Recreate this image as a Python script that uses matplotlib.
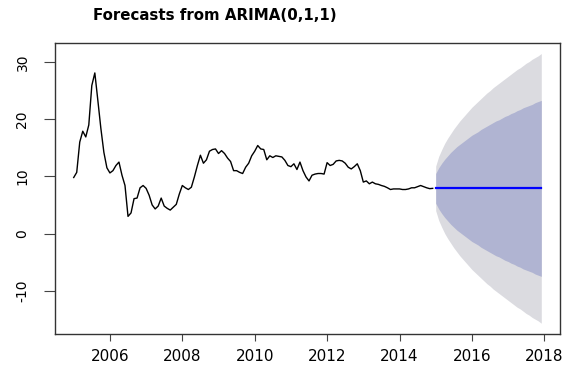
import numpy as np
import matplotlib
matplotlib.use("Agg")
from matplotlib import pyplot as plt

# monthly series, Jan 2005 .. Dec 2014
start_year = 2005
history = [9.8, 10.7, 16.0, 17.9, 16.9, 19.0, 25.9, 28.1, 23.3, 18.4, 14.2, 11.5,
           10.6, 11.0, 11.9, 12.5, 10.2, 8.4, 3.0, 3.6, 6.1, 6.2, 8.0, 8.4,
           7.9, 6.7, 5.0, 4.3, 4.8, 6.2, 4.8, 4.4, 4.1, 4.6, 5.1, 6.9,
           8.4, 8.0, 7.7, 8.1, 9.9, 11.9, 13.7, 12.3, 12.9, 14.4, 14.7, 14.8,
           14.0, 14.5, 14.0, 13.2, 12.6, 11.0, 11.0, 10.7, 10.5, 11.6, 12.3, 13.6,
           14.4, 15.4, 14.8, 14.7, 12.9, 13.6, 13.3, 13.6, 13.5, 13.4, 12.8, 11.9,
           11.7, 12.2, 11.2, 12.5, 11.0, 9.9, 9.2, 10.2, 10.4, 10.5, 10.5, 10.4,
           12.4, 11.9, 12.1, 12.7, 12.8, 12.7, 12.3, 11.6, 11.3, 11.7, 12.2, 11.0,
           9.0, 9.2, 8.7, 9.0, 8.7, 8.6, 8.4, 8.25, 8.0, 7.7, 7.8, 7.8,
           7.8, 7.7, 7.7, 7.8, 8.0, 8.0, 8.2, 8.4, 8.2, 8.0, 7.85, 7.9]

# 36-month forecast, Jan 2015 .. Dec 2017
fc_start = 2015
point_fc = [7.9] * 36
# half widths of the 80% and 95% intervals
w80 = [2.6, 3.6, 4.4, 5.1, 5.7, 6.3, 6.8, 7.3, 7.7, 8.1, 8.5, 8.9,
       9.3, 9.6, 9.9, 10.3, 10.6, 10.9, 11.2, 11.5, 11.8, 12.0, 12.3, 12.6,
       12.8, 13.1, 13.3, 13.6, 13.8, 14.1, 14.3, 14.5, 14.7, 15.0, 15.2, 15.4]
w95 = [3.9, 5.6, 6.8, 7.9, 8.8, 9.6, 10.4, 11.1, 11.8, 12.4, 13.0, 13.6,
       14.2, 14.7, 15.2, 15.7, 16.2, 16.7, 17.1, 17.6, 18.0, 18.4, 18.8, 19.2,
       19.6, 20.0, 20.4, 20.8, 21.1, 21.5, 21.9, 22.2, 22.6, 22.9, 23.2, 23.6]

xtick_years = [2006, 2008, 2010, 2012, 2014, 2016, 2018]
ytick_vals = [-10, 0, 10, 20, 30]

plt.rcParams['axes.unicode_minus'] = False
plt.rcParams['font.family'] = ['DejaVu Sans']
plt.rcParams['xtick.direction'] = 'out'
plt.rcParams['ytick.direction'] = 'out'
plt.rcParams['xtick.major.size'] = 4.8
plt.rcParams['ytick.major.size'] = 7.9
plt.rcParams['xtick.major.width'] = 0.8
plt.rcParams['ytick.major.width'] = 0.8
plt.rcParams['xtick.major.pad'] = 6
plt.rcParams['ytick.major.pad'] = 10.5
plt.rcParams['xtick.color'] = '#444444'
plt.rcParams['ytick.color'] = '#444444'
plt.rcParams['xtick.labelcolor'] = 'black'
plt.rcParams['ytick.labelcolor'] = 'black'

t_hist = start_year + np.arange(len(history)) / 12
t_fc = fc_start + np.arange(len(point_fc)) / 12
fc = np.array(point_fc)
lo95, hi95 = fc - np.array(w95), fc + np.array(w95)
lo80, hi80 = fc - np.array(w80), fc + np.array(w80)

fig = plt.figure(figsize=(5.73, 3.67), dpi=100)
ax = fig.add_axes([0.096, 0.0899, 0.8813, 0.7937])

ax.fill_between(t_fc, lo95, hi95, color="#dbdbe0", lw=0)
ax.fill_between(t_fc, lo80, hi80, color="#b0b4d2", lw=0)
ax.plot(t_hist, history, color="black", lw=1.0)
ax.plot(t_fc, fc, color="#0000ff", lw=1.6)

# R style 4% padding around the data range
x0, x1 = t_hist[0], t_fc[-1]
y0 = min(min(history), lo95.min())
y1 = max(max(history), hi95.max())
ax.set_xlim(x0 - 0.04 * (x1 - x0), x1 + 0.04 * (x1 - x0))
ax.set_ylim(y0 - 0.04 * (y1 - y0), y1 + 0.04 * (y1 - y0))

ax.set_xticks(xtick_years)
ax.set_xticklabels([str(y) for y in xtick_years], fontsize=11)
ax.set_yticks(ytick_vals)
ax.set_yticklabels([str(v) for v in ytick_vals], fontsize=10,
                   rotation=90, va="center", ha="right")
for s in ax.spines.values():
    s.set_color("#333333")
    s.set_linewidth(1.0)

fig.text(215 / 573, 1 - 15 / 367, "Forecasts from ARIMA(0,1,1)",
         ha="center", va="center", fontsize=10.8, fontweight="bold")

fig.savefig("out.png", dpi=100)
